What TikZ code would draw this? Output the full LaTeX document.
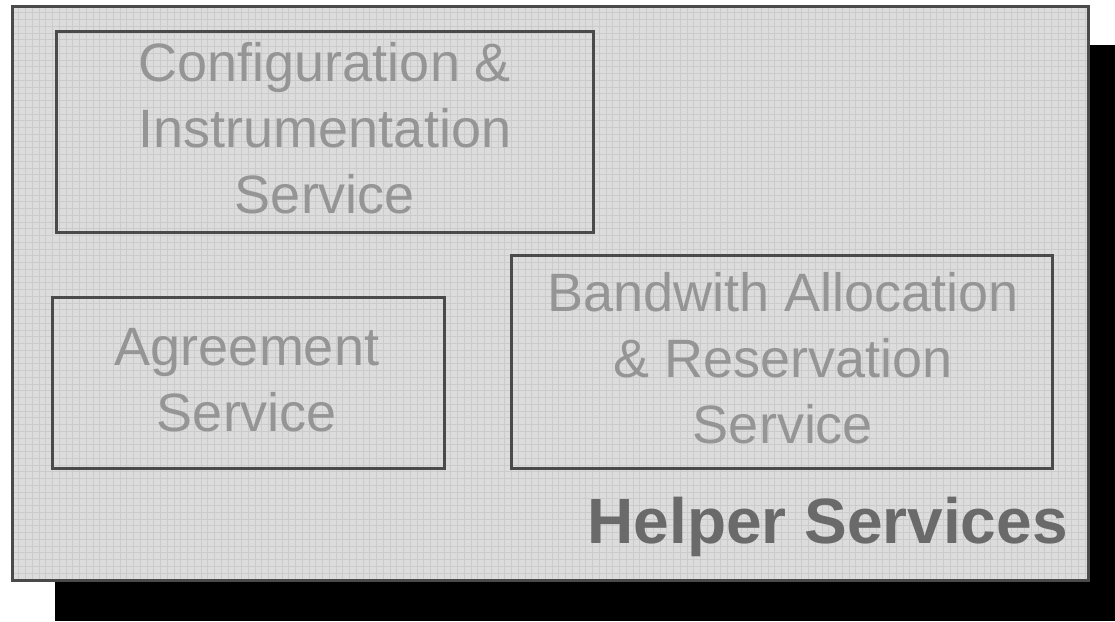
\documentclass[tikz,border=0pt]{standalone}
\usepackage{fontspec}
\setmainfont{Liberation Sans}
\definecolor{panelfill}{HTML}{DCDCDC}
\definecolor{panelgrid}{HTML}{CBCBCB}
\definecolor{edgegray}{HTML}{4A4A4A}
\definecolor{labelgray}{HTML}{959595}
\definecolor{titlegray}{HTML}{6A6A6A}
\tikzset{
  servicebox/.style={draw=edgegray, line width=3pt},
  servicetext/.style={text=labelgray, align=center, inner sep=0pt,
    font=\fontsize{54}{66}\selectfont},
}
\begin{document}
\begin{tikzpicture}[x=1pt, y=-1pt]
  \useasboundingbox (0,0) rectangle (1115,621);
  \fill[white] (0,0) rectangle (1115,621);
  % drop shadow behind the panel
  \fill[black] (55,45) rectangle (1115,621);
  % panel with its hatch texture
  \fill[panelfill] (12,6) rectangle (1088,580);
  \begin{scope}
    \clip (12,6) rectangle (1088,580);
    \foreach \i in {0,...,160} {
      \draw[panelgrid, line width=0.8pt] ({12+6.75*\i},6) -- ({12+6.75*\i},580);
    }
    \foreach \j in {0,...,86} {
      \draw[panelgrid, line width=0.8pt] (12,{6+6.75*\j}) -- (1088,{6+6.75*\j});
    }
  \end{scope}
  \draw[edgegray, line width=3pt] (12,6) rectangle (1088,580);
  % service boxes
  \draw[servicebox] (56,31) rectangle (593,232);
  \draw[servicebox] (52,297) rectangle (444,468);
  \draw[servicebox] (511,255) rectangle (1052,468);
  \node[servicetext] (cis) at (325,128) {Configuration \&\\Instrumentation\\Service};
  \node[servicetext] (agr) at (247,380) {Agreement\\Service};
  \node[servicetext] (bar) at (783,358) {Bandwith Allocation\\\& Reservation\\Service};
  \node[anchor=base east, inner sep=0pt, text=titlegray,
        font=\bfseries\fontsize{64}{70}\selectfont] (title) at (1068,543) {Helper Services};
\end{tikzpicture}
\end{document}
